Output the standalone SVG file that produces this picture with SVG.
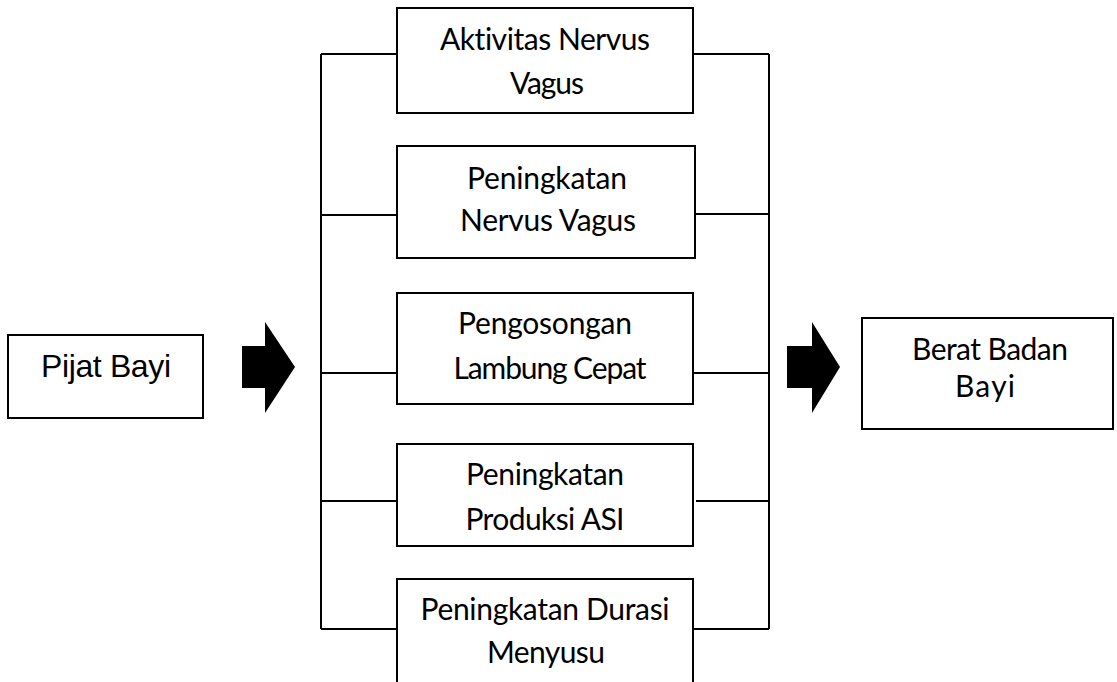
<svg xmlns="http://www.w3.org/2000/svg" width="1117" height="682" viewBox="0 0 1117 682">
<style>
.box{fill:#fff;stroke:#000;stroke-width:2}
.ln{fill:none;stroke:#000;stroke-width:2}
.t{font-family:Lato,"Open Sans",sans-serif;font-size:30px;fill:#000;text-anchor:middle;font-variant-ligatures:none}
.a{font-family:"Liberation Sans",Arial,sans-serif;font-size:32px;fill:#000;text-anchor:middle}
</style>
<rect width="1117" height="682" fill="#fff"/>
<g id="connectors">
<path class="ln" d="M321,54 V629 M321,54 H397 M321,215 H397 M321,373 H397 M321,501 H397 M321,629 H397"/>
<path class="ln" d="M769,54 V629 M693,54 H769 M695,214 H769 M693,373 H769 M696,501 H769 M693,629 H769"/>
<polygon points="242,346 265,346 265,322 295,367 265,413 265,388 242,388" fill="#000"/>
<polygon points="787,346 812,346 812,322 840,367 812,413 812,388 787,388" fill="#000"/>
</g>
<g id="pijat">
<rect class="box" x="8" y="335" width="195" height="83"/>
<text class="a" x="106" y="377" textLength="130">Pijat Bayi</text>
</g>
<g id="n1">
<rect class="box" x="397" y="8" width="296" height="105"/>
<text class="t" x="545" y="50" textLength="210">Aktivitas Nervus</text>
<text class="t" x="547" y="94" textLength="74">Vagus</text>
</g>
<g id="n2">
<rect class="box" x="397" y="146" width="298" height="112"/>
<text class="t" x="547" y="189" textLength="160">Peningkatan</text>
<text class="t" x="548" y="231" textLength="176">Nervus Vagus</text>
</g>
<g id="n3">
<rect class="box" x="397" y="293" width="296" height="111"/>
<text class="t" x="545" y="334" textLength="174">Pengosongan</text>
<text class="t" x="550" y="379" textLength="193">Lambung Cepat</text>
</g>
<g id="n4">
<rect class="box" x="397" y="444" width="296" height="102"/>
<text class="t" x="545" y="485" textLength="158">Peningkatan</text>
<text class="t" x="545" y="530" textLength="159">Produksi ASI</text>
</g>
<g id="n5">
<rect class="box" x="397" y="579" width="296" height="120"/>
<text class="t" x="545" y="620" textLength="249">Peningkatan Durasi</text>
<text class="t" x="546" y="663" textLength="118">Menyusu</text>
</g>
<g id="berat">
<rect class="box" x="862" y="318" width="251" height="111"/>
<text class="t" x="990" y="360" textLength="156">Berat Badan</text>
<text class="t" x="985" y="397" textLength="60">Bayi</text>
</g>
</svg>
